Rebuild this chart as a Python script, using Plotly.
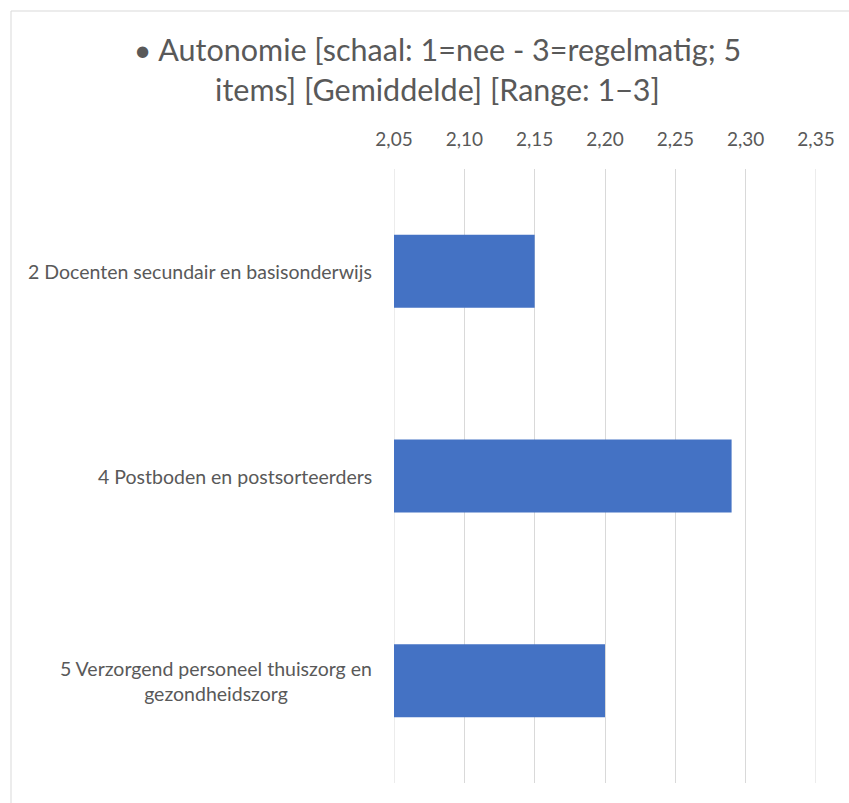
import plotly.graph_objects as go

categories = [
    "2 Docenten secundair en basisonderwijs",
    "4 Postboden en postsorteerders",
    "5 Verzorgend personeel thuiszorg en<br>gezondheidszorg",
]
values = [2.15, 2.29, 2.20]
tick_vals = [2.05, 2.10, 2.15, 2.20, 2.25, 2.30, 2.35]
title_text = "• Autonomie [schaal: 1=nee - 3=regelmatig; 5<br>items] [Gemiddelde] [Range: 1−3]"

FONT = "Lato"
TXT = "#595959"
GRID = "#D9D9D9"

fig = go.Figure()
fig.add_trace(go.Bar(
    y=categories, x=values, orientation="h",
    marker=dict(color="#4472C4", line=dict(width=0)),
    width=0.357, hoverinfo="x+y",
))

W, H = 849, 803
L, R, T, B = 394, 33, 169, 20

fig.update_layout(
    width=W, height=H,
    margin=dict(l=L, r=R, t=T, b=B),
    paper_bgcolor="white", plot_bgcolor="white",
    showlegend=False,
    separators=",.",
    font=dict(family=FONT, color=TXT),
    title=dict(
        text=title_text,
        x=437.5 / W, xref="container", xanchor="center",
        y=1 - 61 / H, yref="container", yanchor="middle",
        font=dict(family=FONT, size=30.5, color=TXT),
    ),
    xaxis=dict(
        range=[tick_vals[0], tick_vals[-1]], side="top",
        tickvals=tick_vals, tickformat=".2f",
        showgrid=True, gridcolor=GRID, gridwidth=1,
        zeroline=False, showline=False,
        ticks="outside", ticklen=14, tickcolor="rgba(0,0,0,0)",
        tickfont=dict(family=FONT, size=19, color=TXT),
        fixedrange=True,
    ),
    yaxis=dict(
        categoryorder="array", categoryarray=categories,
        autorange="reversed",
        showticklabels=False, showgrid=False, zeroline=False, showline=False,
        fixedrange=True,
    ),
)

# edge gridlines (plotly omits grid lines that sit on the range ends)
for v in (tick_vals[0], tick_vals[-1]):
    fig.add_shape(type="line", xref="x", yref="paper", x0=v, x1=v, y0=0, y1=1,
                  line=dict(color=GRID, width=1), layer="below")

# category labels (centered multi-line like the original)
plot_w = W - L - R
for c in categories:
    fig.add_annotation(
        x=(374 - L) / plot_w, xref="paper", y=c, yref="y",
        text=c, showarrow=False, xanchor="right", align="center",
        font=dict(family=FONT, size=19.5, color=TXT),
    )

# chart border (only top and left edges are visible in the crop)
plot_h = H - T - B
fig.add_shape(
    type="rect", xref="paper", yref="paper",
    x0=(11 - L) / plot_w, x1=(870 - L) / plot_w,
    y0=(H - B - 820) / plot_h, y1=(H - B - 11) / plot_h,
    line=dict(color=GRID, width=1), fillcolor="rgba(0,0,0,0)",
    layer="below",
)

fig.write_html(
    "out.html",
    config={"displayModeBar": False},
    post_script="document.body.style.margin='0';document.body.style.overflow='hidden';",
)
